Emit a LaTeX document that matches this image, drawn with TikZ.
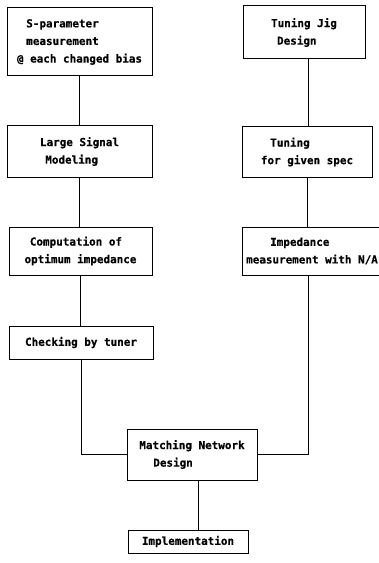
\documentclass[tikz,border=0pt]{standalone}
\usepackage{fontspec}
\newfontfamily\dotfont{DejaVu Sans Mono}[BoldFeatures={FakeBold=0.4}]
\begin{document}
\begin{tikzpicture}[x=0.75pt,y=-0.75pt,
  box/.style={draw,line width=0.75pt,inner sep=0pt,font=\dotfont\bfseries\fontsize{8.2}{13.2}\selectfont,align=left},
  conn/.style={line width=0.7pt}]
\useasboundingbox (0,0) rectangle (378,563);
% left column
\node[box,minimum width=145*0.75pt,minimum height=68*0.75pt] (s1) at (79.5,42)
  {\hspace*{7pt}S-parameter\\\hspace*{7pt}measurement\\@ each changed bias};
\node[box,minimum width=145*0.75pt,minimum height=51*0.75pt] (s2) at (79.5,151.5) {Large Signal\\\hspace*{4pt}Modeling};
\node[box,minimum width=143*0.75pt,minimum height=48*0.75pt] (s3) at (80.5,251) {\hspace*{4pt}Computation of\\optimum impedance};
\node[box,minimum width=144*0.75pt,minimum height=33*0.75pt] (s4) at (81,342.5) {Checking by tuner};
% right column
\node[box,minimum width=122*0.75pt,minimum height=53*0.75pt] (t1) at (304,32.5) {Tuning Jig\\\hspace*{4.5pt}Design};
\node[box,minimum width=130*0.75pt,minimum height=50*0.75pt] (t2) at (307,152) {\hspace*{7pt}Tuning\\for given spec};
\node[box,minimum width=140*0.75pt,minimum height=48*0.75pt] (t3) at (312,251) {\hspace*{18pt}Impedance\\measurement with N/A};
% bottom
\node[box,minimum width=130*0.75pt,minimum height=51*0.75pt] (m) at (192,454.5) {Matching Network\\\hspace*{10.5pt}Design};
\node[box,minimum width=120*0.75pt,minimum height=23*0.75pt] (e) at (188,541.5) {Implementation};
% connectors
\draw[conn] (s1.south) -- (s1.south |- s2.north);
\draw[conn] (s2.south) -- (s2.south |- s3.north);
\draw[conn] (s3.south) -- (s3.south |- s4.north);
\draw[conn] (s4.south) |- (m.west);
\draw[conn] ([xshift=3pt]t1.south) -- ([xshift=3pt]t1.south |- t2.north);
\draw[conn] (t2.south) -- (t2.south |- t3.north);
\draw[conn] ([xshift=-3pt]t3.south) |- (m.east);
\draw[conn] ([xshift=4.5pt]m.south) -- ([xshift=4.5pt]m.south |- e.north);
\end{tikzpicture}
\end{document}
